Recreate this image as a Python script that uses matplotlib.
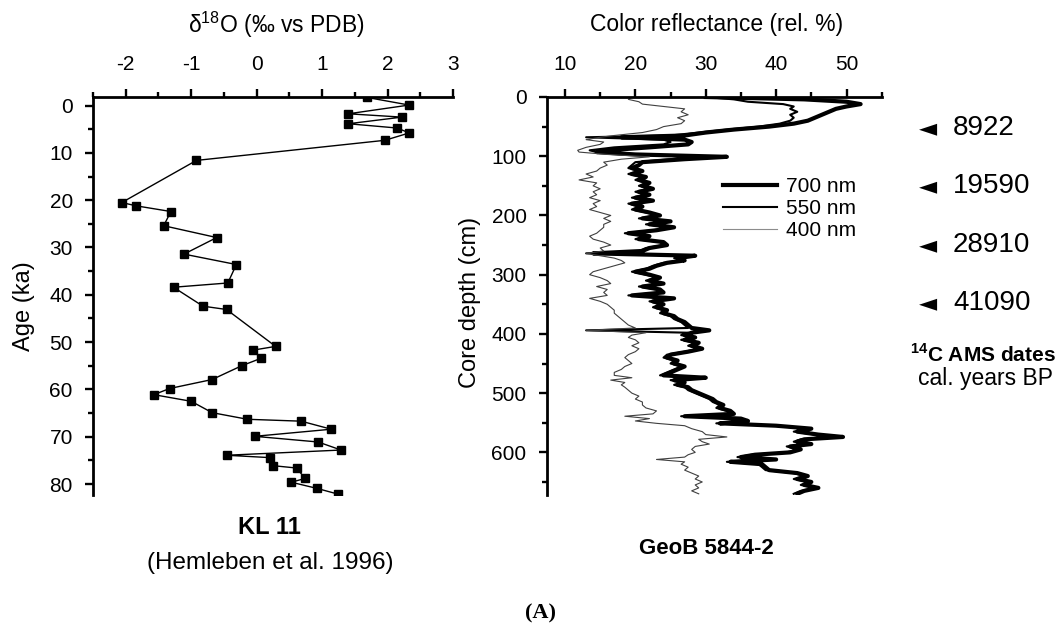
import matplotlib
matplotlib.use("Agg")
import matplotlib.pyplot as plt
from matplotlib.ticker import MultipleLocator

plt.rcParams['font.family'] = ['Liberation Sans', 'DejaVu Sans']
plt.rcParams['mathtext.fontset'] = 'custom'
plt.rcParams['mathtext.rm'] = 'Liberation Sans'
plt.rcParams['mathtext.bf'] = 'Liberation Sans:bold'
plt.rcParams['axes.unicode_minus'] = False

# KL 11 oxygen isotopes (Hemleben et al. 1996)
kl11_d18o = [1.69, 2.33, 1.40, 2.22, 1.40, 2.15, 2.33, 1.96, -0.92, -2.06,
             -1.84, -1.31, -1.42, -0.61, -1.11, -0.31, -0.44, -1.27, -0.82, -0.46,
             0.29, -0.06, 0.07, -0.23, -0.68, -1.33, -1.57, -1.0, -0.68, -0.14,
             0.68, 1.14, -0.03, 0.94, 1.29, -0.46, 0.20, 0.25, 0.61, 0.74,
             0.53, 0.92, 1.24]
kl11_age = [-1.7, -0.1, 1.75, 2.45, 3.85, 4.76, 5.8, 7.35, 11.6, 20.5,
            21.2, 22.4, 25.4, 27.9, 31.4, 33.6, 37.5, 38.4, 42.4, 43.1,
            50.9, 51.7, 53.4, 55.0, 57.9, 59.8, 61.1, 62.5, 64.9, 66.3,
            66.7, 68.4, 69.9, 71.1, 72.8, 73.9, 74.4, 76.1, 76.6, 78.8,
            79.6, 80.9, 82.1]

# GeoB 5844-2 colour reflectance
depth = [0, 4, 8, 12, 16, 20, 25, 30, 35, 40, 45, 50, 55, 60, 65, 68, 72, 76, 80, 85,
         90, 93, 97, 101, 105, 110, 115, 120, 125, 130, 135, 140, 145, 150, 155, 160, 165, 170, 175, 180,
         185, 190, 195, 200, 205, 210, 215, 220, 225, 230, 235, 240, 245, 250, 255, 260, 264, 268, 272, 276,
         280, 285, 290, 295, 300, 305, 310, 315, 320, 325, 330, 335, 340, 345, 350, 355, 360, 365, 370, 375,
         380, 385, 390, 394, 398, 402, 406, 410, 415, 420, 425, 430, 435, 440, 445, 450, 455, 460, 465, 470,
         474, 478, 482, 486, 490, 495, 500, 505, 510, 515, 520, 525, 530, 535, 539, 543, 547, 551, 555, 560,
         565, 570, 574, 578, 582, 586, 590, 595, 600, 604, 608, 612, 616, 620, 625, 630, 635, 640, 645, 650,
         655, 660, 665, 670]
r700 = [30, 44, 50, 52, 50, 48.5, 47.5, 46.5, 45.5, 44.5, 42.5, 39, 34, 30, 27, 18, 27, 28, 27.5, 22,
        16, 14.5, 20, 33, 27, 21, 20.5, 19.5, 21, 19.5, 21.5, 20.5, 22, 21, 22.5, 20.5, 22, 20, 22.5, 19.5,
        21, 20, 22, 23.5, 21, 25, 22, 25.5, 23, 19, 22, 20.5, 24, 24.5, 22, 21, 14, 28.5, 26, 27,
        24.5, 23, 22, 20, 22, 23.5, 22, 24, 21, 23.5, 24, 19.5, 25.5, 22.5, 24, 23, 24.5, 24, 25.5, 26,
        27, 27.5, 28, 30.5, 28, 27, 28.5, 27, 29, 28, 29.5, 27.5, 25, 24.5, 26, 25.5, 27, 26, 25, 24,
        30, 25.5, 27, 26, 27.5, 28, 29, 30, 31, 31.5, 32.5, 32, 33.5, 34, 27, 35, 36, 32, 40, 45,
        43, 46, 49.5, 44, 43, 45, 42, 43.5, 42, 37, 35, 40, 33.5, 38, 38.5, 39, 43, 44.5, 43, 45,
        44, 46, 44, 43]
r550 = [30, 34, 36, 41, 42.5, 42, 43, 42, 42.5, 42, 40.5, 37.5, 33, 29, 25, 13, 24, 25, 24, 17,
        13.5, 14.5, 18, 31, 25, 20, 19.5, 19, 20.5, 19, 21, 20, 21.5, 20.5, 22, 20, 21.5, 19.5, 22, 19,
        20.5, 19.5, 21.5, 23, 20.5, 24.5, 21.5, 25, 22.5, 18.5, 21.5, 20, 23.5, 24, 21.5, 20.5, 13, 28, 25.5, 26.5,
        24, 22.5, 21.5, 19.5, 21.5, 23, 21.5, 23.5, 20.5, 23, 23.5, 19, 25, 22, 23.5, 22.5, 24, 23.5, 25, 25.5,
        26.5, 27, 27.5, 13, 27.5, 26.5, 28, 26.5, 28.5, 27.5, 29, 27, 24.5, 24, 25.5, 25, 26.5, 25.5, 24.5, 23.5,
        29.5, 25, 26.5, 25.5, 27, 27.5, 28.5, 29.5, 30.5, 31, 32, 31.5, 33, 33.5, 26.5, 34.5, 35.5, 31.5, 39.5, 44.5,
        42.5, 45.5, 49, 43.5, 42.5, 44.5, 41.5, 43, 41.5, 36.5, 34.5, 39.5, 33, 37.5, 38, 38.5, 42.5, 44, 42.5, 44.5,
        43.5, 45.5, 43.5, 42.5]
r400 = [19.5, 19, 20.5, 21, 24, 27, 26.5, 27.5, 26, 27, 26.5, 24, 23, 21, 17, 15, 13, 15.5, 15, 13,
        11.8, 12, 16, 22, 18, 15.5, 16, 15, 14.5, 13, 14, 12, 14.5, 14, 15, 14, 14.5, 13.5, 15, 14,
        14.5, 13.5, 15, 16.5, 15.5, 16.5, 15.5, 15.5, 15, 14.5, 13.5, 14, 15.5, 16.5, 15, 15.5, 13, 15, 17, 18,
        18.5, 17, 15.5, 14, 13.5, 15, 16, 16.5, 14.5, 16, 15.5, 16, 13.5, 15, 16, 16.5, 17, 17, 17.5, 18,
        18.5, 19, 20, 13, 21.5, 19.5, 19, 20, 20.5, 19.5, 20.5, 20, 19, 18.5, 19, 19.5, 18.5, 18, 17, 17,
        19.5, 16.5, 18.5, 18, 18.5, 19, 19.5, 20.5, 20, 21, 21, 21.5, 23, 22.5, 18.5, 22, 20, 23, 27, 28,
        29.5, 30, 33, 29, 29.5, 30.5, 28.5, 28, 28.5, 27.5, 27, 23, 27, 26.5, 27.5, 27, 28, 29, 28.5, 29.5,
        28.5, 29, 28, 29]

c14_dates = ["8922", "19590", "28910", "41090"]
c14_ypix = [128, 186, 245, 303]

W, H = 1062, 632
fig = plt.figure(figsize=(W / 100, H / 100), dpi=100)

ax1 = fig.add_axes([93 / W, 1 - 495 / H, 360 / W, 398 / H])
ax2 = fig.add_axes([546.7 / W, 1 - 495 / H, 335 / W, 398 / H])

for ax in (ax1, ax2):
    ax.spines['right'].set_visible(False)
    ax.spines['bottom'].set_visible(False)
    ax.spines['left'].set_linewidth(2.0)
    ax.spines['top'].set_linewidth(2.0)
    ax.xaxis.tick_top()
    ax.tick_params(which='major', direction='out', length=5.5, width=1.7, labelsize=15, pad=11)
    ax.tick_params(axis='y', which='major', pad=9)
    ax.tick_params(which='minor', direction='out', length=3.5, width=1.7)
    ax.tick_params(axis='x', which='both', top=True, bottom=False)
    ax.tick_params(axis='y', which='both', left=True, right=False)
    ax.set_facecolor('none')

# left panel
ax1.plot(kl11_d18o, kl11_age, color='black', lw=1.0, marker='s', ms=6.3)
ax1.set_xlim(-2.5, 3)
ax1.set_ylim(82.3, -1.8)
ax1.xaxis.set_major_locator(MultipleLocator(1))
ax1.xaxis.set_minor_locator(MultipleLocator(0.5))
ax1.yaxis.set_major_locator(MultipleLocator(10))
ax1.yaxis.set_minor_locator(MultipleLocator(5))

# right panel
ax2.plot(r700, depth, color='black', lw=3.0, label='700 nm')
ax2.plot(r550, depth, color='black', lw=1.5, label='550 nm')
ax2.plot(r400, depth, color='0.25', lw=0.8, label='400 nm')
ax2.set_xlim(7.4, 55)
ax2.set_ylim(672, 0)
ax2.xaxis.set_major_locator(MultipleLocator(10))
ax2.xaxis.set_minor_locator(MultipleLocator(5))
ax2.yaxis.set_major_locator(MultipleLocator(100))
ax2.yaxis.set_minor_locator(MultipleLocator(50))

handles, labels = ax2.get_legend_handles_labels()
handles[2].set_color('0.55')
leg = ax2.legend(frameon=False, loc='upper left', bbox_to_anchor=((723 - 546.7) / 335, (495 - 177) / 398),
                 borderpad=0, borderaxespad=0, handlelength=2.6, handletextpad=0.4,
                 labelspacing=0.15, fontsize=15)
handles[2].set_color('0.25')

# texts
fig.text(276 / W, 1 - 25 / H, r'δ$^{18}$O (‰ vs PDB)', ha='center', va='center', fontsize=16.5)
fig.text(717 / W, 1 - 25 / H, 'Color reflectance (rel. %)', ha='center', va='center', fontsize=16.5)
fig.text(24 / W, 1 - 306 / H, 'Age (ka)', rotation=90, ha='center', va='center', fontsize=17)
fig.text(470 / W, 1 - 302 / H, 'Core depth (cm)', rotation=90, ha='center', va='center', fontsize=17)
fig.text(269 / W, 1 - 528 / H, 'KL 11', ha='center', va='center', fontsize=17, fontweight='bold')
fig.text(270 / W, 1 - 563 / H, '(Hemleben et al. 1996)', ha='center', va='center', fontsize=17.5)
fig.text(706 / W, 1 - 548 / H, 'GeoB 5844-2', ha='center', va='center', fontsize=16, fontweight='bold')
fig.text(540 / W, 1 - 613 / H, '(A)', ha='center', va='center', fontsize=16, fontweight='bold',
         family='Liberation Serif')

for label, yp in zip(c14_dates, c14_ypix):
    fig.text(919 / W, 1 - yp / H, '◄', ha='left', va='center', fontsize=17, family='DejaVu Sans')
    fig.text(953 / W, 1 - yp / H, label, ha='left', va='center', fontsize=20)
fig.text(983 / W, 1 - 355 / H, r'$^{\mathbf{14}}$C AMS dates', ha='center', va='center',
         fontsize=15, fontweight='bold')
fig.text(985 / W, 1 - 379 / H, 'cal. years BP', ha='center', va='center', fontsize=16.5)

fig.savefig('out.png', dpi=100)
